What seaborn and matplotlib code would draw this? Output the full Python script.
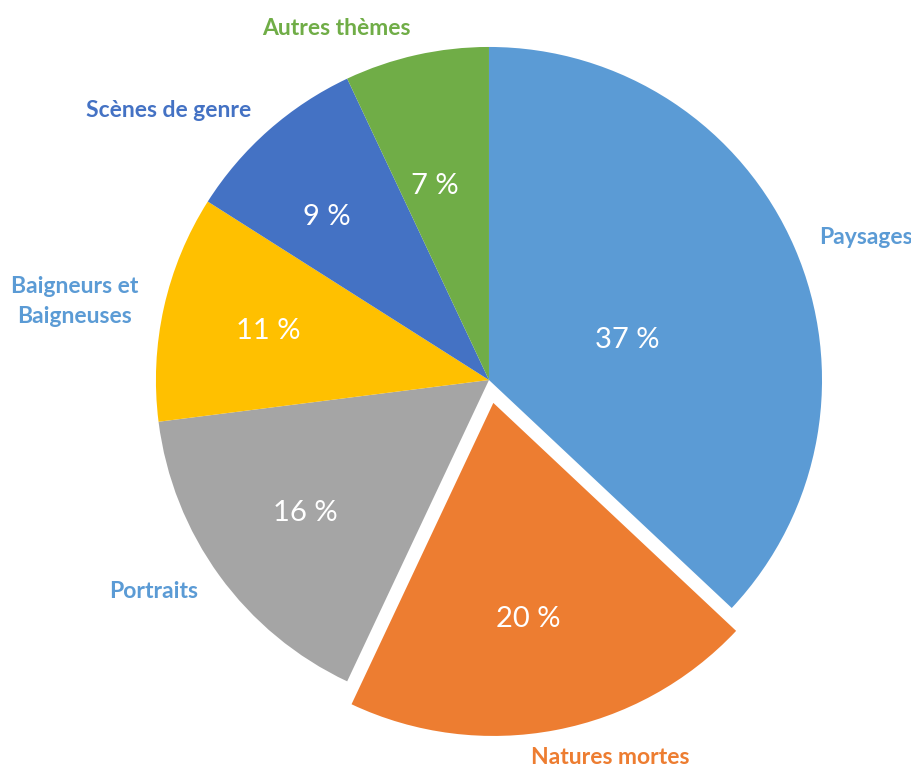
import seaborn as sns
import matplotlib.pyplot as plt

themes = ["Paysages", "Natures mortes", "Portraits", "Baigneurs et\nBaigneuses", "Scènes de genre", "Autres thèmes"]
parts = [37, 20, 16, 11, 9, 7]
slice_colors = ["#5B9BD5", "#ED7D31", "#A5A5A5", "#FFC000", "#4472C4", "#70AD47"]
label_colors = ["#5B9BD5", "#ED7D31", "#5B9BD5", "#5B9BD5", "#4472C4", "#70AD47"]
explode = [0, 0.07, 0, 0, 0, 0]

sns.set_theme(style="white")
plt.rcParams['font.family'] = ['Lato', 'DejaVu Sans']

fig = plt.figure(figsize=(9.12, 7.67), dpi=100)
ax = fig.add_axes([0, 0, 1, 1])

wedges, texts, autotexts = ax.pie(
    parts, labels=themes, colors=slice_colors, explode=explode,
    startangle=90, counterclock=False, labeldistance=1.08, pctdistance=0.68,
    autopct=lambda p: f"{p:.0f} %",
    wedgeprops=dict(linewidth=0),
    textprops=dict(fontsize=16.5),
)

for t, c in zip(texts, label_colors):
    t.set_color(c)
    t.set_fontweight("bold")
    t.set_linespacing(1.5)
    t.set_multialignment("center")

# Natures mortes label sits centred under its slice
texts[1].set_horizontalalignment("center")
x, y = texts[1].get_position()
texts[1].set_position((x + 0.148, y - 0.003))

for a in autotexts:
    a.set_color("white")
    a.set_fontsize(21)

# big slice keeps its percentage nearer the centre
x, y = autotexts[0].get_position()
autotexts[0].set_position((x * 0.664, y * 0.444))
x, y = autotexts[1].get_position()
autotexts[1].set_position((x - 0.024, y + 0.018))
x, y = autotexts[5].get_position()
autotexts[5].set_position((x * 1.1, y * 0.88))
x, y = autotexts[4].get_position()
autotexts[4].set_position((x * 1.08, y * 0.96))

ax.set_aspect("equal")
ax.set_xlim(-1.468, 1.270)
ax.set_ylim(-1.162, 1.141)
ax.axis("off")

fig.savefig("out.png", dpi=100, facecolor="white")
